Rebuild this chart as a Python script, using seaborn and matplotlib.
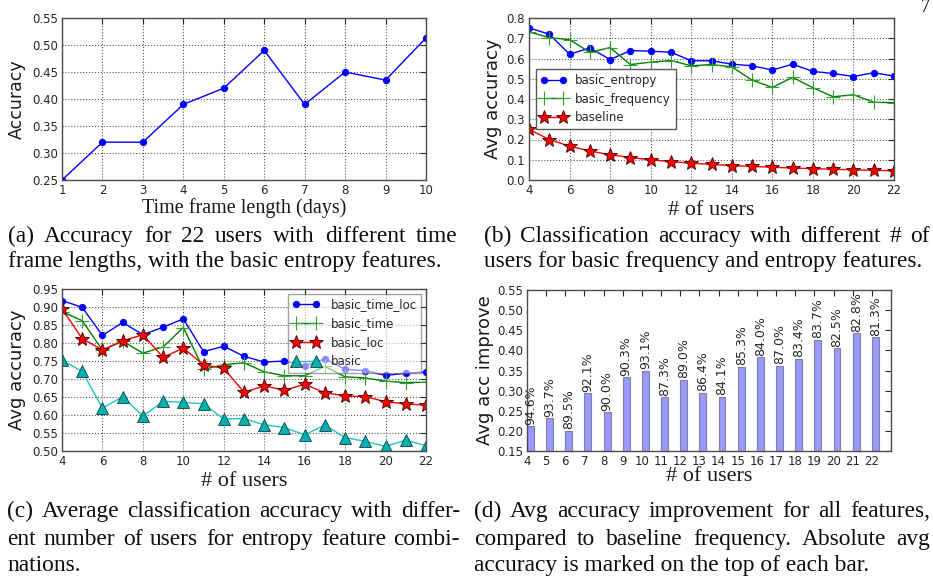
import matplotlib
matplotlib.use('Agg')
import matplotlib.pyplot as plt
from matplotlib.ticker import FormatStrFormatter
import numpy as np
import seaborn as sns

# ── DATA ──────────────────────────────────────────────────────
frame_days = [1, 2, 3, 4, 5, 6, 7, 8, 9, 10]
frame_acc = [0.25, 0.32, 0.32, 0.39, 0.42, 0.49, 0.39, 0.45, 0.435, 0.513]

users = [4, 5, 6, 7, 8, 9, 10, 11, 12, 13, 14, 15, 16, 17, 18, 19, 20, 21, 22]

basic_entropy = [0.751, 0.720, 0.621, 0.652, 0.595, 0.639, 0.636, 0.631, 0.589, 0.589,
                 0.572, 0.564, 0.543, 0.572, 0.536, 0.526, 0.511, 0.530, 0.513]
basic_frequency = [0.731, 0.703, 0.693, 0.630, 0.654, 0.570, 0.582, 0.590, 0.564, 0.570,
                   0.559, 0.493, 0.457, 0.507, 0.456, 0.411, 0.421, 0.384, 0.382]
baseline = [0.250, 0.200, 0.167, 0.143, 0.125, 0.111, 0.100, 0.091, 0.083, 0.077,
            0.071, 0.067, 0.063, 0.059, 0.056, 0.053, 0.050, 0.048, 0.045]

basic_time_loc = [0.918, 0.899, 0.821, 0.857, 0.823, 0.844, 0.867, 0.776, 0.791, 0.763,
                  0.747, 0.750, 0.736, 0.756, 0.727, 0.723, 0.710, 0.716, 0.719]
basic_time = [0.887, 0.862, 0.780, 0.805, 0.772, 0.789, 0.843, 0.727, 0.740, 0.745,
              0.720, 0.709, 0.709, 0.735, 0.706, 0.703, 0.694, 0.690, 0.691]
basic_loc = [0.895, 0.812, 0.781, 0.806, 0.823, 0.760, 0.786, 0.739, 0.730, 0.663,
             0.681, 0.669, 0.685, 0.662, 0.653, 0.651, 0.637, 0.631, 0.627]
basic = [0.752, 0.721, 0.619, 0.651, 0.597, 0.638, 0.635, 0.631, 0.589, 0.590,
         0.573, 0.565, 0.545, 0.572, 0.537, 0.527, 0.513, 0.530, 0.515]

acc_improve = [0.212, 0.232, 0.200, 0.294, 0.247, 0.334, 0.350, 0.283, 0.327, 0.295,
               0.285, 0.359, 0.383, 0.362, 0.379, 0.427, 0.406, 0.443, 0.432]
abs_acc = ['94.6%', '93.7%', '89.5%', '92.1%', '90.0%', '90.3%', '93.1%', '87.3%', '89.0%',
           '86.4%', '84.1%', '85.3%', '84.0%', '87.0%', '83.4%', '83.7%', '82.5%', '82.8%', '81.3%']

# ── STYLE ─────────────────────────────────────────────────────
sns.set_theme(style='white')
plt.rcParams['font.family'] = 'DejaVu Sans'
SERIF = 'Liberation Serif'

W, H = 933, 577
fig = plt.figure(figsize=(W / 100, H / 100), dpi=100)

def box(x0, y0, x1, y1):
    return [x0 / W, 1 - y1 / H, (x1 - x0) / W, (y1 - y0) / H]

ax_a = fig.add_axes(box(62, 18, 426, 180))
ax_b = fig.add_axes(box(529, 18, 894, 180))
ax_c = fig.add_axes(box(62, 289, 426, 451))
ax_d = fig.add_axes(box(527, 290, 891, 451))

def style(ax, grid=True):
    if grid:
        ax.grid(True, ls=':', color='0.35', lw=0.8)
    ax.set_axisbelow(True)
    ax.tick_params(direction='in', top=True, right=True, length=4, width=0.8,
                   labelsize=8.5, colors='0.15', pad=3)
    for s in ax.spines.values():
        s.set_color('0.3'); s.set_linewidth(1)

def labels(ax, xl, xsize, xy, yl, ysize, yx):
    ax.set_xlabel(xl, fontsize=xsize, family=SERIF, color='0.1')
    ax.set_ylabel(yl, fontsize=ysize, color='0.1')
    ax.xaxis.set_label_coords(0.5, xy)
    ax.yaxis.set_label_coords(yx, 0.5)

# (a) accuracy vs time frame length
sns.lineplot(x=frame_days, y=frame_acc, ax=ax_a, color='#0000ff', lw=1,
             marker='o', markersize=4.5, markeredgecolor='#0000ff')
ax_a.set_xlim(1, 10); ax_a.set_ylim(0.25, 0.55)
ax_a.set_xticks(frame_days)
ax_a.set_yticks([0.25, 0.30, 0.35, 0.40, 0.45, 0.50, 0.55])
ax_a.yaxis.set_major_formatter(FormatStrFormatter('%.2f'))
style(ax_a)
labels(ax_a, 'Time frame length (days)', 14.5, -0.11, 'Accuracy', 12.5, -0.10)

# (b) entropy vs frequency vs baseline
sns.lineplot(x=users, y=basic_entropy, ax=ax_b, color='#0000ff', lw=1, label='basic_entropy',
             marker='o', markersize=4.5, markeredgecolor='#0000ff')
sns.lineplot(x=users, y=basic_frequency, ax=ax_b, color='#008000', lw=1, label='basic_frequency',
             marker='+', markersize=10, markeredgewidth=0.8, markeredgecolor='#33a033')
sns.lineplot(x=users, y=baseline, ax=ax_b, color='#ff0000', lw=1, label='baseline',
             marker='*', markersize=10, markeredgewidth=0.6, markeredgecolor='#400000')
ax_b.set_xlim(4, 22); ax_b.set_ylim(0, 0.8)
ax_b.set_xticks(users[::2])
ax_b.set_yticks([0.0, 0.1, 0.2, 0.3, 0.4, 0.5, 0.6, 0.7, 0.8])
ax_b.yaxis.set_major_formatter(FormatStrFormatter('%.1f'))
style(ax_b)
labels(ax_b, '# of users', 16, -0.13, 'Avg accuracy', 13, -0.075)
ax_b.legend(loc='center left', bbox_to_anchor=(0.0, 0.5), fontsize=8.5, numpoints=2,
            fancybox=False, edgecolor='0.35', framealpha=1, handlelength=2.2,
            borderaxespad=0.6, labelspacing=0.45, handletextpad=0.7)

# (c) entropy feature combinations
sns.lineplot(x=users, y=basic_time_loc, ax=ax_c, color='#0000ff', lw=1, label='basic_time_loc',
             marker='o', markersize=4.5, markeredgecolor='#0000ff')
sns.lineplot(x=users, y=basic_time, ax=ax_c, color='#008000', lw=1, label='basic_time',
             marker='+', markersize=10, markeredgewidth=0.8, markeredgecolor='#33a033')
sns.lineplot(x=users, y=basic_loc, ax=ax_c, color='#ff0000', lw=1, label='basic_loc',
             marker='*', markersize=10, markeredgewidth=0.6, markeredgecolor='#400000')
sns.lineplot(x=users, y=basic, ax=ax_c, color='#22c4c4', lw=1, label='basic',
             marker='^', markersize=8.5, markerfacecolor='#00b0b0',
             markeredgewidth=0.6, markeredgecolor='#104040')
ax_c.set_xlim(4, 22); ax_c.set_ylim(0.50, 0.95)
ax_c.set_xticks(users[::2])
ax_c.set_yticks([0.50, 0.55, 0.60, 0.65, 0.70, 0.75, 0.80, 0.85, 0.90, 0.95])
ax_c.yaxis.set_major_formatter(FormatStrFormatter('%.2f'))
style(ax_c)
labels(ax_c, '# of users', 16, -0.13, 'Avg accuracy', 13, -0.10)
ax_c.legend(loc='upper right', fontsize=8.5, numpoints=2, fancybox=False, edgecolor='0.35',
            framealpha=0.55, handlelength=2.3, borderaxespad=0.4, labelspacing=0.5,
            handletextpad=0.9)

# (d) accuracy improvement bars
sns.barplot(x=users, y=acc_improve, ax=ax_d, native_scale=True, width=0.36, errorbar=None,
            color='#9999ff', saturation=1, edgecolor='#8080a0', linewidth=0.8)
for p in ax_d.patches:
    p.set_x(p.get_x() + p.get_width() / 2)   # classic edge-aligned bars
ax_d.bar_label(ax_d.containers[0], labels=abs_acc, rotation=90, padding=1,
               fontsize=9, color='0.15')
ax_d.set_xlim(4, 23); ax_d.set_ylim(0.15, 0.55)
ax_d.set_xticks(users)
ax_d.set_yticks([0.15, 0.20, 0.25, 0.30, 0.35, 0.40, 0.45, 0.50, 0.55])
ax_d.yaxis.set_major_formatter(FormatStrFormatter('%.2f'))
style(ax_d, grid=False)
labels(ax_d, '# of users', 16, -0.10, 'Avg acc improve', 13, -0.092)

# ── CAPTIONS (justified like the paper) ───────────────────────
rend = fig.canvas.get_renderer()

def caption(lines, x0, x1, baselines, size=16.8):
    for (txt, just), yb in zip(lines, baselines):
        y = 1 - yb / H
        if not just:
            fig.text(x0 / W, y, txt, fontsize=size, family=SERIF, va='baseline', color='0.05')
            continue
        words = [fig.text(0, y, w, fontsize=size, family=SERIF, va='baseline', color='0.05')
                 for w in txt.split()]
        widths = [t.get_window_extent(rend).width for t in words]
        gap = (x1 - x0 - sum(widths)) / (len(words) - 1)
        x = x0
        for t, w in zip(words, widths):
            t.set_x(x / W)
            x += w + gap

caption([('(a) Accuracy for 22 users with different time', True),
         ('frame lengths, with the basic entropy features.', False)], 8, 457, [242, 267])
caption([('(b) Classification accuracy with different # of', True),
         ('users for basic frequency and entropy features.', False)], 484, 930, [242, 267])
caption([('(c) Average classification accuracy with differ-', True),
         ('ent number of users for entropy feature combi-', True),
         ('nations.', False)], 7, 460, [517, 545, 571])
caption([('(d) Avg accuracy improvement for all features,', True),
         ('compared to baseline frequency. Absolute avg', True),
         ('accuracy is marked on the top of each bar.', False)], 474, 930, [517, 545, 571])

fig.text(921 / W, 1 - 12 / H, '7', fontsize=13, family=SERIF, va='baseline', color='0.05')

fig.savefig('out.png', dpi=100)
